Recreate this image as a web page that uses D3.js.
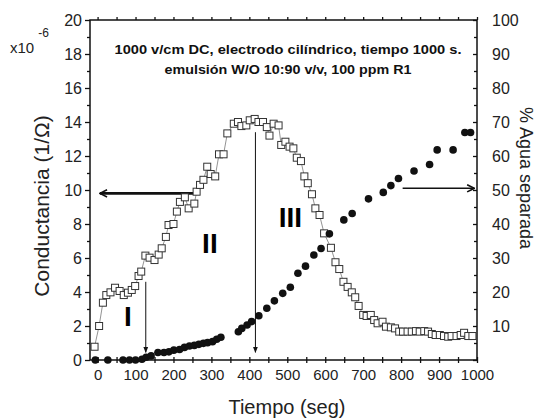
<!DOCTYPE html>
<html>
<head>
<meta charset="utf-8">
<script src="https://cdn.jsdelivr.net/npm/d3@7"></script>
<style>
  body { margin: 0; background: #fff; }
  svg { font-family: "Liberation Sans", Arial, sans-serif; }
</style>
</head>
<body>
<svg id="chart" width="539" height="420"></svg>
<script>
// conductancia (x10^-6 1/ohm) vs tiempo
const condTime = [-8,4,14,23,34,46,58,69,80,90,99,108,115,126,137,150,161,169,180,187,200,209,217,230,240,255,261,270,279,289,298,310,320,332,342,359,370,379,392,401,414,424,436,446,453,464,477,484,495,506,516,525,536,545,554,565,574,585,597,615,627,637,648,659,670,679,688,700,709,720,729,738,751,760,773,784,795,805,817,828,839,849,861,871,881,891,902,913,924,933,946,957,966,977,988];
const condValue = [0.78,2.0,3.37,3.82,3.98,4.25,4.06,3.82,3.96,4.12,4.35,4.94,5.2,6.14,6.02,5.88,6.2,6.57,7.24,7.94,8.0,8.73,9.3,9.57,8.92,9.2,9.9,10.3,10.6,11.37,10.94,10.8,12.1,12.1,13.33,13.9,14.0,13.76,13.8,14.1,14.18,14.0,14.0,13.7,13.2,13.9,13.8,12.65,12.84,12.55,12.45,11.9,11.7,10.8,10.4,9.75,8.92,8.53,7.45,6.6,5.75,5.35,4.6,4.3,3.98,3.69,3.18,2.65,2.59,2.65,2.35,2.16,2.25,1.96,1.92,1.86,1.67,1.67,1.67,1.67,1.7,1.67,1.7,1.67,1.53,1.47,1.47,1.41,1.37,1.41,1.41,1.47,1.6,1.41,1.41];

// % agua separada vs tiempo
const waterTime = [-6,27,67,84,100,117,128,141,159,175,188,201,216,229,242,255,267,279,290,303,314,325,371,380,394,406,425,446,466,488,508,528,548,570,589,611,649,671,714,753,773,793,834,875,895,937,968,983];
const waterPct = [0,0,0,0,0,0.2,0.8,1.2,2.2,2.2,2.4,2.9,3.1,3.7,4.1,4.3,4.6,4.9,5.1,5.4,6.1,6.7,8.3,9.3,10.3,11.3,13.0,15.2,17.4,19.6,21.4,25.5,27.6,30.9,32.8,37.1,41.2,43.1,47.4,49.3,51.3,53.4,55.6,57.5,61.8,61.8,66.9,66.9];

const xTicks = d3.range(0, 1001, 50);
const yLeftTicks = d3.range(0, 21, 1);
const yRightTicks = d3.range(0, 101, 5);

const titleLines = ["1000 v/cm DC, electrodo cilíndrico, tiempo 1000 s.", "emulsión W/O 10:90 v/v, 100 ppm R1"];
const zoneLabels = [{t: "I", x: 80, y: 2.6}, {t: "II", x: 296, y: 6.9}, {t: "III", x: 508, y: 8.4}];

const svg = d3.select("#chart");
const plotL = 90, plotR = 477, plotT = 20, plotB = 360;

const x = d3.scaleLinear().domain([-20, 1000]).range([plotL, plotR]);
const y = d3.scaleLinear().domain([0, 20]).range([plotB, plotT]);
const y2 = d3.scaleLinear().domain([0, 100]).range([plotB, plotT]);

// frame
svg.append("rect")
  .attr("x", plotL).attr("y", plotT)
  .attr("width", plotR - plotL).attr("height", plotB - plotT)
  .attr("fill", "none").attr("stroke", "#111").attr("stroke-width", 1.5);

// bottom axis
const xAxis = svg.append("g")
  .attr("transform", `translate(0,${plotB})`)
  .call(d3.axisBottom(x).tickValues(xTicks).tickSize(3)
    .tickFormat(d => d % 100 === 0 ? d : ""));
xAxis.select(".domain").remove();
xAxis.selectAll(".tick line").attr("y1", -3).attr("y2", 3).attr("stroke", "#111").attr("stroke-width", 1.3);
xAxis.selectAll("text").attr("y", 20).attr("dy", null)
  .attr("font-size", 15).attr("fill", "#222");

// top ticks
const xTop = svg.append("g")
  .attr("transform", `translate(0,${plotT})`)
  .call(d3.axisTop(x).tickValues(xTicks).tickSize(3).tickFormat(""));
xTop.select(".domain").remove();
xTop.selectAll(".tick line").attr("stroke", "#111").attr("stroke-width", 1.3);

// left axis
const yAxis = svg.append("g")
  .attr("transform", `translate(${plotL},0)`)
  .call(d3.axisLeft(y).tickValues(yLeftTicks)
    .tickFormat(d => d % 2 === 0 ? d : ""));
yAxis.select(".domain").remove();
yAxis.selectAll(".tick line")
  .attr("x2", d => d % 2 === 0 ? -5 : -3)
  .attr("stroke", "#111").attr("stroke-width", 1.3);
yAxis.selectAll("text").attr("x", -8).attr("font-size", 16).attr("fill", "#222");

// right axis
const yAxis2 = svg.append("g")
  .attr("transform", `translate(${plotR},0)`)
  .call(d3.axisRight(y2).tickValues(yRightTicks)
    .tickFormat(d => d % 10 === 0 && d > 0 ? d : ""));
yAxis2.select(".domain").remove();
yAxis2.selectAll(".tick line")
  .attr("x1", d => d % 10 === 0 ? -4 : -3).attr("x2", 0)
  .attr("stroke", "#111").attr("stroke-width", 1.3);
yAxis2.selectAll("text").attr("x", 15).attr("font-size", 16).attr("fill", "#222");

// axis titles
svg.append("text")
  .attr("transform", "translate(49,206) rotate(-90)")
  .attr("text-anchor", "middle").attr("font-size", 21).attr("fill", "#222")
  .text("Conductancia (1/Ω)");

svg.append("text")
  .attr("transform", "translate(520,178) rotate(90)")
  .attr("text-anchor", "middle").attr("font-size", 18).attr("fill", "#222")
  .text("% Agua separada");

svg.append("text")
  .attr("x", 287).attr("y", 414)
  .attr("text-anchor", "middle").attr("font-size", 20).attr("fill", "#222")
  .text("Tiempo (seg)");

// x10^-6
const mult = svg.append("text").attr("x", 10).attr("y", 53).attr("font-size", 15).attr("fill", "#222");
mult.append("tspan").text("x10");
mult.append("tspan").attr("dx", 4).attr("dy", -16).attr("font-size", 12).text("-6");

// title
svg.selectAll(".ttl")
  .data(titleLines)
  .enter().append("text")
  .attr("class", "ttl")
  .attr("x", 288).attr("y", (d, i) => 54 + i * 20)
  .attr("text-anchor", "middle")
  .attr("font-size", 13).attr("font-weight", "bold").attr("fill", "#111")
  .attr("textLength", (d, i) => i === 0 ? 347 : 247)
  .attr("lengthAdjust", "spacingAndGlyphs")
  .text(d => d);

// zone labels
svg.selectAll(".zone")
  .data(zoneLabels)
  .enter().append("text")
  .attr("class", "zone")
  .attr("x", d => x(d.x)).attr("y", d => y(d.y) + 10)
  .attr("text-anchor", "middle")
  .attr("font-size", 28).attr("font-weight", 900).attr("fill", "#000")
  .text(d => d.t);

// arrows
const defs = svg.append("defs");
defs.append("marker")
  .attr("id", "open").attr("viewBox", "0 0 10 10")
  .attr("refX", 9).attr("refY", 5)
  .attr("markerWidth", 9).attr("markerHeight", 9)
  .attr("markerUnits", "userSpaceOnUse")
  .attr("orient", "auto")
  .append("path").attr("d", "M1,1 L9,5 L1,9")
  .attr("fill", "none").attr("stroke", "#111").attr("stroke-width", 1.8);
defs.append("marker")
  .attr("id", "tri").attr("viewBox", "0 0 10 10")
  .attr("refX", 9).attr("refY", 5)
  .attr("markerWidth", 6).attr("markerHeight", 6)
  .attr("markerUnits", "userSpaceOnUse")
  .attr("orient", "auto")
  .append("path").attr("d", "M0,1 L10,5 L0,9 Z").attr("fill", "#111");

const arrows = [
  {x1: 254, y1: 9.8, x2: 6, y2: 9.8, w: 2.6, m: "open"},
  {x1: 804, y1: 10.1, x2: 993, y2: 10.1, w: 1.4, m: "open"},
  {x1: 127, y1: 4.6, x2: 127, y2: 0.45, w: 1, m: "tri"},
  {x1: 416, y1: 13.4, x2: 416, y2: 0.45, w: 1, m: "tri"}
];
svg.selectAll(".arr")
  .data(arrows)
  .enter().append("line")
  .attr("class", "arr")
  .attr("x1", d => x(d.x1)).attr("y1", d => y(d.y1))
  .attr("x2", d => x(d.x2)).attr("y2", d => y(d.y2))
  .attr("stroke", "#111").attr("stroke-width", d => d.w)
  .attr("marker-end", d => `url(#${d.m})`);

// conductance line + squares
const cond = condTime.map((t, i) => ({t: t, v: condValue[i]}));
svg.append("path")
  .datum(cond)
  .attr("fill", "none").attr("stroke", "#777").attr("stroke-width", 0.8)
  .attr("d", d3.line().x(d => x(d.t)).y(d => y(d.v)));

svg.selectAll(".sq")
  .data(cond)
  .enter().append("rect")
  .attr("class", "sq")
  .attr("x", d => x(d.t) - 3.5).attr("y", d => y(d.v) - 3.5)
  .attr("width", 7).attr("height", 7)
  .attr("fill", "#fff").attr("stroke", "#333").attr("stroke-width", 1);

// water separated, filled circles
const water = waterTime.map((t, i) => ({t: t, v: waterPct[i]}));
svg.selectAll(".dot")
  .data(water)
  .enter().append("circle")
  .attr("class", "dot")
  .attr("cx", d => x(d.t)).attr("cy", d => y2(d.v))
  .attr("r", 3.8)
  .attr("fill", "#111");
</script>
</body>
</html>
